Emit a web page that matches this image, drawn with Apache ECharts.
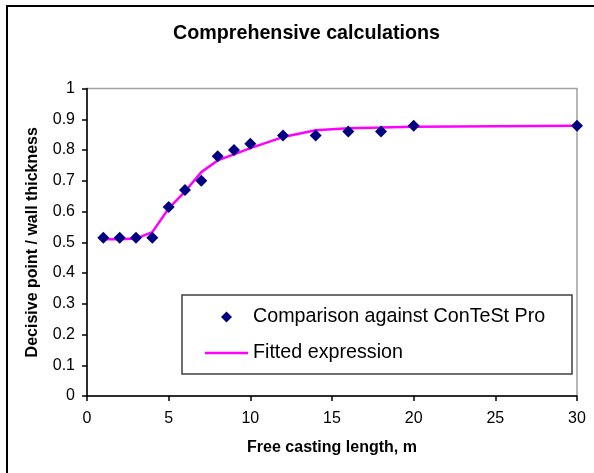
<!DOCTYPE html>
<html>
<head>
<meta charset="utf-8">
<script src="https://cdn.jsdelivr.net/npm/echarts@6/dist/echarts.min.js"></script>
<style>html,body{margin:0;padding:0;background:#fff}#c{width:594px;height:473px}</style>
</head>
<body>
<div id="c"></div>
<script>
const lengths = [1, 2, 3, 4, 5, 6, 7, 8, 9, 10, 12, 14, 16, 18, 20, 30];
const comparison = [0.515, 0.515, 0.515, 0.515, 0.615, 0.67, 0.70, 0.78, 0.80, 0.82, 0.847, 0.847, 0.86, 0.86, 0.879, 0.879];
const fitted = [0.51, 0.51, 0.512, 0.533, 0.61, 0.665, 0.728, 0.766, 0.786, 0.806, 0.842, 0.864, 0.871, 0.873, 0.876, 0.879];
const titleText = 'Comprehensive calculations';
const xName = 'Free casting length, m';
const yName = 'Decisive point / wall thickness';
const seriesNames = ['Comparison against ConTeSt Pro', 'Fitted expression'];

const font = 'Liberation Sans, Arial, sans-serif';
const chart = echarts.init(document.getElementById('c'), null, {renderer: 'canvas'});
chart.setOption({
  animation: false,
  backgroundColor: '#fff',
  title: {
    text: titleText, left: 173, top: 24, padding: 0,
    textStyle: {fontFamily: font, fontSize: 19.7, fontWeight: 'bold', color: '#000'}
  },
  graphic: [
    {type: 'rect', shape: {x: 7, y: 6, width: 700, height: 600}, style: {fill: 'none', stroke: '#000', lineWidth: 2}, z: 100},
    {type: 'rect', shape: {x: 182, y: 295, width: 390, height: 79}, style: {fill: '#fff', stroke: '#404040', lineWidth: 1.5}, z: 50}
  ],
  legend: {
    orient: 'vertical', left: 205, top: 307, padding: 0,
    itemWidth: 43, itemHeight: 11, itemGap: 16,
    symbolKeepAspect: true,
    z: 60,
    data: [
      {name: seriesNames[0], icon: 'path://M5,0 L10,5 L5,10 L0,5 Z', itemStyle: {color: '#000080', opacity: 1}},
      {name: seriesNames[1], icon: 'path://M0,0 L43,0 L43,2.5 L0,2.5 Z', itemStyle: {color: '#ff00ff'}}
    ],
    textStyle: {fontFamily: font, fontSize: 19.7, color: '#000', lineHeight: 20}
  },
  grid: {left: 87, right: 17, top: 88.5, bottom: 77, show: true, borderColor: '#a0a0a0', borderWidth: 1.5, backgroundColor: '#fff'},
  xAxis: {
    type: 'value', min: 0, max: 30, interval: 5,
    name: xName, nameLocation: 'middle', nameGap: 44,
    nameTextStyle: {fontFamily: font, fontSize: 16, fontWeight: 'bold', color: '#000'},
    axisLine: {show: true, lineStyle: {color: '#000', width: 1.5}},
    axisTick: {show: true, length: 5, lineStyle: {color: '#000', width: 1.5}},
    axisLabel: {fontFamily: font, fontSize: 16, color: '#000', margin: 15},
    splitLine: {show: false}
  },
  yAxis: {
    type: 'value', min: 0, max: 1, interval: 0.1,
    name: yName, nameLocation: 'middle', nameGap: 46,
    nameTextStyle: {fontFamily: font, fontSize: 16, fontWeight: 'bold', color: '#000'},
    axisLine: {show: true, lineStyle: {color: '#000', width: 1.5}},
    axisTick: {show: true, length: 5, lineStyle: {color: '#000', width: 1.5}},
    axisLabel: {fontFamily: font, fontSize: 16, color: '#000', margin: 12},
    splitLine: {show: false}
  },
  series: [
    {
      name: seriesNames[1], type: 'line',
      data: lengths.map((x, i) => [x, fitted[i]]),
      symbol: 'none', lineStyle: {color: '#ff00ff', width: 2.5}, itemStyle: {color: '#ff00ff'}, z: 2
    },
    {
      name: seriesNames[0], type: 'scatter',
      data: lengths.map((x, i) => [x, comparison[i]]),
      symbol: 'diamond', symbolSize: 12, itemStyle: {color: '#000080', opacity: 1}, z: 3
    }
  ]
});
</script>
</body>
</html>
